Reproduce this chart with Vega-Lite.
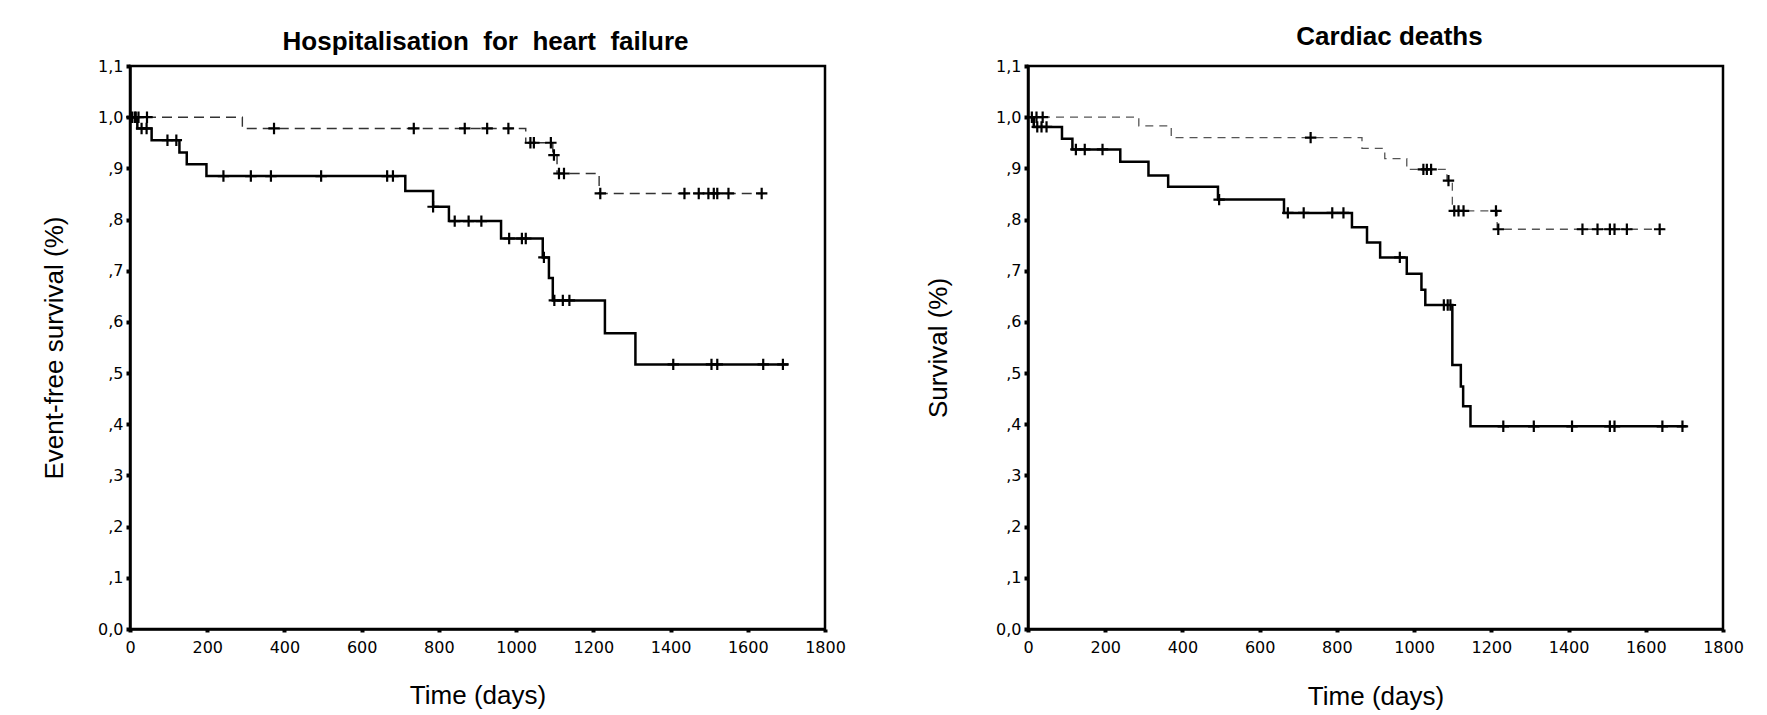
{
  "$schema": "https://vega.github.io/schema/vega-lite/v6.json",
  "background": "white",
  "padding": {"left": 40, "top": 22, "right": 0, "bottom": 0},
  "config": {
    "font": "Liberation Sans",
    "view": {"stroke": "black", "strokeWidth": 2.5},
    "axis": {"grid": false, "domainColor": "black", "domainWidth": 2.5, "tickColor": "black", "labelColor": "black", "titleColor": "black", "labelFont": "DejaVu Sans", "labelFontSize": 16, "titleFont": "Liberation Sans", "titleFontSize": 26, "titleFontWeight": "normal"},
    "title": {"font": "Liberation Sans", "fontSize": 26, "fontWeight": "bold", "color": "black", "anchor": "middle"},
    "concat": {"spacing": 77}
  },
  "datasets": {
    "hf_steps": [
      {"group": "A", "time": 0, "surv": 1.0}, {"group": "A", "time": 19, "surv": 0.978}, {"group": "A", "time": 56, "surv": 0.955}, {"group": "A", "time": 128, "surv": 0.931}, {"group": "A", "time": 147, "surv": 0.908}, {"group": "A", "time": 198, "surv": 0.885}, {"group": "A", "time": 713, "surv": 0.856}, {"group": "A", "time": 785, "surv": 0.825}, {"group": "A", "time": 826, "surv": 0.797}, {"group": "A", "time": 961, "surv": 0.763}, {"group": "A", "time": 1069, "surv": 0.726}, {"group": "A", "time": 1085, "surv": 0.686}, {"group": "A", "time": 1095, "surv": 0.642}, {"group": "A", "time": 1230, "surv": 0.578}, {"group": "A", "time": 1309, "surv": 0.517}, {"group": "A", "time": 1705, "surv": 0.517},
      {"group": "B", "time": 0, "surv": 1.0}, {"group": "B", "time": 291, "surv": 0.978}, {"group": "B", "time": 1025, "surv": 0.95}, {"group": "B", "time": 1095, "surv": 0.926}, {"group": "B", "time": 1106, "surv": 0.89}, {"group": "B", "time": 1215, "surv": 0.851}, {"group": "B", "time": 1640, "surv": 0.851}
    ],
    "hf_cens": [
      {"group": "A", "time": 5, "surv": 1.0}, {"group": "A", "time": 15, "surv": 1.0}, {"group": "A", "time": 30, "surv": 0.978}, {"group": "A", "time": 43, "surv": 0.978}, {"group": "A", "time": 97, "surv": 0.955}, {"group": "A", "time": 120, "surv": 0.955}, {"group": "A", "time": 242, "surv": 0.885}, {"group": "A", "time": 313, "surv": 0.885}, {"group": "A", "time": 365, "surv": 0.885}, {"group": "A", "time": 495, "surv": 0.885}, {"group": "A", "time": 666, "surv": 0.885}, {"group": "A", "time": 681, "surv": 0.885}, {"group": "A", "time": 785, "surv": 0.825}, {"group": "A", "time": 841, "surv": 0.797}, {"group": "A", "time": 877, "surv": 0.797}, {"group": "A", "time": 910, "surv": 0.797}, {"group": "A", "time": 982, "surv": 0.763}, {"group": "A", "time": 1015, "surv": 0.763}, {"group": "A", "time": 1025, "surv": 0.763}, {"group": "A", "time": 1072, "surv": 0.726}, {"group": "A", "time": 1099, "surv": 0.642}, {"group": "A", "time": 1121, "surv": 0.642}, {"group": "A", "time": 1138, "surv": 0.642}, {"group": "A", "time": 1407, "surv": 0.517}, {"group": "A", "time": 1506, "surv": 0.517}, {"group": "A", "time": 1521, "surv": 0.517}, {"group": "A", "time": 1640, "surv": 0.517}, {"group": "A", "time": 1691, "surv": 0.517},
      {"group": "B", "time": 12, "surv": 1.0}, {"group": "B", "time": 22, "surv": 1.0}, {"group": "B", "time": 44, "surv": 1.0}, {"group": "B", "time": 373, "surv": 0.978}, {"group": "B", "time": 735, "surv": 0.978}, {"group": "B", "time": 867, "surv": 0.978}, {"group": "B", "time": 925, "surv": 0.978}, {"group": "B", "time": 980, "surv": 0.978}, {"group": "B", "time": 1037, "surv": 0.95}, {"group": "B", "time": 1046, "surv": 0.95}, {"group": "B", "time": 1090, "surv": 0.95}, {"group": "B", "time": 1098, "surv": 0.926}, {"group": "B", "time": 1111, "surv": 0.89}, {"group": "B", "time": 1124, "surv": 0.89}, {"group": "B", "time": 1218, "surv": 0.851}, {"group": "B", "time": 1436, "surv": 0.851}, {"group": "B", "time": 1473, "surv": 0.851}, {"group": "B", "time": 1498, "surv": 0.851}, {"group": "B", "time": 1512, "surv": 0.851}, {"group": "B", "time": 1521, "surv": 0.851}, {"group": "B", "time": 1550, "surv": 0.851}, {"group": "B", "time": 1636, "surv": 0.851}
    ],
    "cd_steps": [
      {"group": "A", "time": 0, "surv": 1.0}, {"group": "A", "time": 15, "surv": 0.981}, {"group": "A", "time": 88, "surv": 0.958}, {"group": "A", "time": 115, "surv": 0.937}, {"group": "A", "time": 239, "surv": 0.913}, {"group": "A", "time": 312, "surv": 0.886}, {"group": "A", "time": 363, "surv": 0.864}, {"group": "A", "time": 492, "surv": 0.839}, {"group": "A", "time": 663, "surv": 0.813}, {"group": "A", "time": 839, "surv": 0.785}, {"group": "A", "time": 878, "surv": 0.755}, {"group": "A", "time": 912, "surv": 0.726}, {"group": "A", "time": 981, "surv": 0.694}, {"group": "A", "time": 1019, "surv": 0.663}, {"group": "A", "time": 1029, "surv": 0.633}, {"group": "A", "time": 1099, "surv": 0.516}, {"group": "A", "time": 1121, "surv": 0.474}, {"group": "A", "time": 1127, "surv": 0.435}, {"group": "A", "time": 1146, "surv": 0.396}, {"group": "A", "time": 1706, "surv": 0.396},
      {"group": "B", "time": 0, "surv": 1.0}, {"group": "B", "time": 287, "surv": 0.983}, {"group": "B", "time": 371, "surv": 0.96}, {"group": "B", "time": 865, "surv": 0.939}, {"group": "B", "time": 924, "surv": 0.919}, {"group": "B", "time": 981, "surv": 0.898}, {"group": "B", "time": 1085, "surv": 0.876}, {"group": "B", "time": 1099, "surv": 0.817}, {"group": "B", "time": 1215, "surv": 0.781}, {"group": "B", "time": 1648, "surv": 0.781}
    ],
    "cd_cens": [
      {"group": "A", "time": 24, "surv": 0.981}, {"group": "A", "time": 35, "surv": 0.981}, {"group": "A", "time": 48, "surv": 0.981}, {"group": "A", "time": 124, "surv": 0.937}, {"group": "A", "time": 147, "surv": 0.937}, {"group": "A", "time": 193, "surv": 0.937}, {"group": "A", "time": 495, "surv": 0.839}, {"group": "A", "time": 673, "surv": 0.813}, {"group": "A", "time": 714, "surv": 0.813}, {"group": "A", "time": 788, "surv": 0.813}, {"group": "A", "time": 817, "surv": 0.813}, {"group": "A", "time": 963, "surv": 0.726}, {"group": "A", "time": 1077, "surv": 0.633}, {"group": "A", "time": 1087, "surv": 0.633}, {"group": "A", "time": 1094, "surv": 0.633}, {"group": "A", "time": 1231, "surv": 0.396}, {"group": "A", "time": 1310, "surv": 0.396}, {"group": "A", "time": 1409, "surv": 0.396}, {"group": "A", "time": 1507, "surv": 0.396}, {"group": "A", "time": 1519, "surv": 0.396}, {"group": "A", "time": 1643, "surv": 0.396}, {"group": "A", "time": 1695, "surv": 0.396},
      {"group": "B", "time": 10, "surv": 1.0}, {"group": "B", "time": 22, "surv": 1.0}, {"group": "B", "time": 38, "surv": 1.0}, {"group": "B", "time": 732, "surv": 0.96}, {"group": "B", "time": 1024, "surv": 0.898}, {"group": "B", "time": 1033, "surv": 0.898}, {"group": "B", "time": 1044, "surv": 0.898}, {"group": "B", "time": 1089, "surv": 0.876}, {"group": "B", "time": 1104, "surv": 0.817}, {"group": "B", "time": 1115, "surv": 0.817}, {"group": "B", "time": 1128, "surv": 0.817}, {"group": "B", "time": 1212, "surv": 0.817}, {"group": "B", "time": 1218, "surv": 0.781}, {"group": "B", "time": 1436, "surv": 0.781}, {"group": "B", "time": 1475, "surv": 0.781}, {"group": "B", "time": 1507, "surv": 0.781}, {"group": "B", "time": 1519, "surv": 0.781}, {"group": "B", "time": 1551, "surv": 0.781}, {"group": "B", "time": 1636, "surv": 0.781}
    ]
  },
  "hconcat": [
    {
      "width": 695,
      "height": 563,
      "title": {"text": "Hospitalisation\u00a0 for\u00a0 heart\u00a0 failure", "offset": 3, "dx": 8},
      "encoding": {
        "x": {"field": "time", "type": "quantitative", "scale": {"domain": [0, 1800], "nice": false, "zero": false},
              "axis": {"title": "Time (days)", "format": "d", "values": [0, 200, 400, 600, 800, 1000, 1200, 1400, 1600, 1800], "labelFlush": false, "labelOverlap": false, "tickSize": 3, "tickWidth": 4, "labelPadding": 7, "titlePadding": 27}},
        "y": {"field": "surv", "type": "quantitative", "scale": {"domain": [0, 1.1], "nice": false, "zero": false},
              "axis": {"title": "Event-free survival (%)", "values": [0, 0.1, 0.2, 0.3, 0.4, 0.5, 0.6, 0.7, 0.8, 0.9, 1.0, 1.1], "labelExpr": "datum.value < 0.05 ? '0,0' : (datum.value > 0.95 ? replace(format(datum.value, '.1f'), '.', ',') : ',' + format(datum.value * 10, '.0f'))", "labelFlush": false, "labelOverlap": false, "tickSize": 4, "tickWidth": 4, "labelPadding": 3, "titlePadding": 30}}
      },
      "layer": [
        {"data": {"name": "hf_steps"}, "transform": [{"filter": "datum.group == 'B'"}], "mark": {"type": "line", "interpolate": "step-after", "color": "#333333", "strokeWidth": 1.4, "strokeDash": [10, 6]}},
        {"data": {"name": "hf_steps"}, "transform": [{"filter": "datum.group == 'A'"}], "mark": {"type": "line", "interpolate": "step-after", "color": "black", "strokeWidth": 2.5}},
        {"data": {"name": "hf_cens"}, "mark": {"type": "point", "shape": "M-1,0H1M0,-1V1", "size": 130, "filled": false, "stroke": "black", "strokeWidth": 2.2, "opacity": 1}},
        {"data": {"values": [{"label": "log rank = 5.78"}]}, "mark": {"type": "text", "align": "left", "baseline": "middle", "fontSize": 21, "color": "black"},
         "encoding": {"x": {"datum": 179, "type": "quantitative"}, "y": {"datum": 0.2, "type": "quantitative"}, "text": {"field": "label"}}}
      ]
    },
    {
      "width": 695,
      "height": 563,
      "title": {"text": "Cardiac deaths", "offset": 8, "dx": 14},
      "encoding": {
        "x": {"field": "time", "type": "quantitative", "scale": {"domain": [0, 1800], "nice": false, "zero": false},
              "axis": {"title": "Time (days)", "format": "d", "values": [0, 200, 400, 600, 800, 1000, 1200, 1400, 1600, 1800], "labelFlush": false, "labelOverlap": false, "tickSize": 3, "tickWidth": 4, "labelPadding": 7, "titlePadding": 28}},
        "y": {"field": "surv", "type": "quantitative", "scale": {"domain": [0, 1.1], "nice": false, "zero": false},
              "axis": {"title": "Survival (%)", "values": [0, 0.1, 0.2, 0.3, 0.4, 0.5, 0.6, 0.7, 0.8, 0.9, 1.0, 1.1], "labelExpr": "datum.value < 0.05 ? '0,0' : (datum.value > 0.95 ? replace(format(datum.value, '.1f'), '.', ',') : ',' + format(datum.value * 10, '.0f'))", "labelFlush": false, "labelOverlap": false, "tickSize": 4, "tickWidth": 4, "labelPadding": 3, "titlePadding": 44}}
      },
      "layer": [
        {"data": {"name": "cd_steps"}, "transform": [{"filter": "datum.group == 'B'"}], "mark": {"type": "line", "interpolate": "step-after", "color": "#555555", "strokeWidth": 1.3, "strokeDash": [8, 6]}},
        {"data": {"name": "cd_steps"}, "transform": [{"filter": "datum.group == 'A'"}], "mark": {"type": "line", "interpolate": "step-after", "color": "black", "strokeWidth": 2.5}},
        {"data": {"name": "cd_cens"}, "mark": {"type": "point", "shape": "M-1,0H1M0,-1V1", "size": 130, "filled": false, "stroke": "black", "strokeWidth": 2.2, "opacity": 1}},
        {"data": {"values": [{"label": "log rank = 6.24"}]}, "mark": {"type": "text", "align": "left", "baseline": "middle", "fontSize": 21, "color": "black"},
         "encoding": {"x": {"datum": 232, "type": "quantitative"}, "y": {"datum": 0.162, "type": "quantitative"}, "text": {"field": "label"}}}
      ]
    }
  ]
}
